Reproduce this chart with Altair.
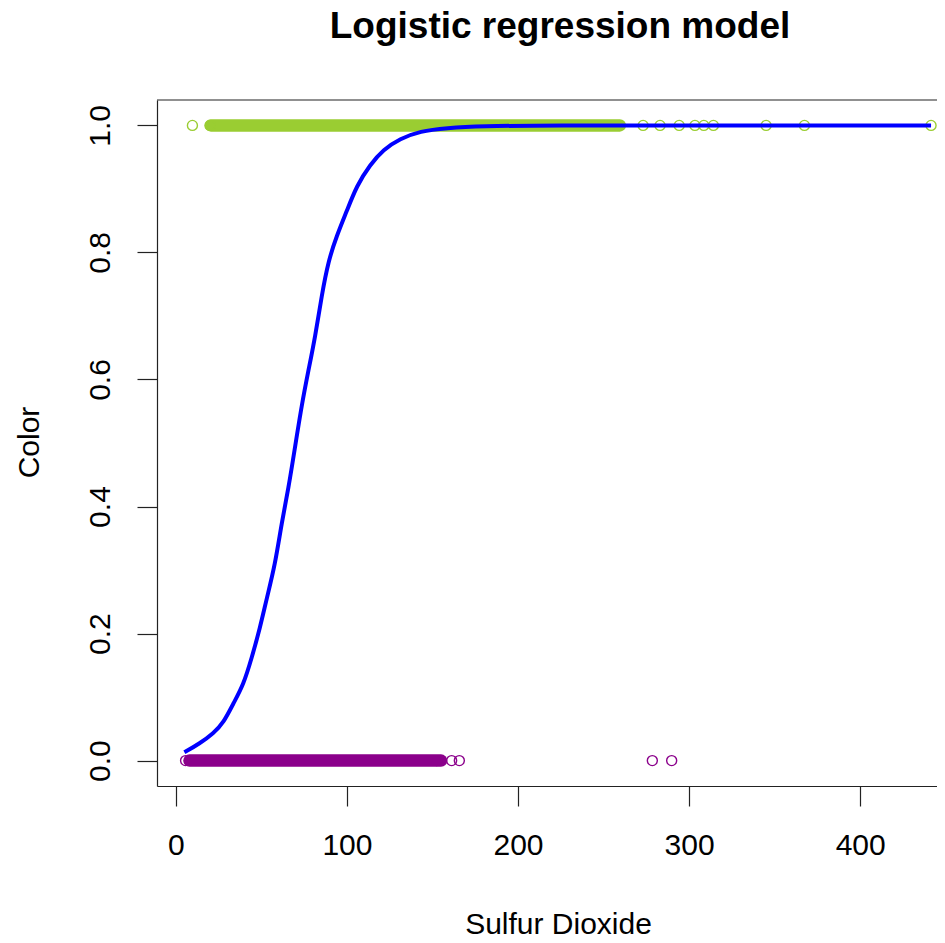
import altair as alt
import pandas as pd

# ---- data ----
# dense runs of overlapping observations (start, end of the run on the x axis)
green_band_start = [20.5]
green_band_end = [259.5]
purple_band_start = [8.0]
purple_band_end = [155.0]

# isolated observations
green_points_x = [9.7, 20.0, 273.1, 283.0, 294.2, 303.4, 308.6, 314.2, 345.0, 367.4, 441.4]
purple_points_x = [5.7, 152.5, 161.2, 165.7, 278.5, 289.8]

# fitted logistic curve
curve_x = [5, 14, 22, 28, 33.6, 39.5, 44.4, 49.2, 53.1, 58, 61.9, 65.8, 69.7, 73.6,
           77.4, 81.4, 85.3, 89.1, 94, 99.9, 105.7, 113.5, 121.3, 131, 142.7, 158.3,
           177.8, 220, 300, 441.4]
curve_p = [0.013, 0.027, 0.043, 0.060, 0.090, 0.119, 0.162, 0.209, 0.255, 0.308,
           0.375, 0.428, 0.494, 0.560, 0.613, 0.666, 0.733, 0.786, 0.826, 0.865,
           0.905, 0.938, 0.962, 0.979, 0.991, 0.996, 0.999, 1.0, 1.0, 1.0]

x_ticks = [0, 100, 200, 300, 400]
y_ticks = [0.0, 0.2, 0.4, 0.6, 0.8, 1.0]
title_text = "Logistic regression model"

GREEN = "#9ACD32"
PURPLE = "#8B008B"
BLUE = "#0000FF"
FONT = "Liberation Sans"
W, H = 780, 686

bands = pd.DataFrame({
    "start": green_band_start + purple_band_start,
    "end": green_band_end + purple_band_end,
    "color": [1.0] * len(green_band_start) + [0.0] * len(purple_band_start),
    "c": [GREEN] * len(green_band_start) + [PURPLE] * len(purple_band_start),
})
points = pd.DataFrame({
    "start": green_points_x + purple_points_x,
    "color": [1.0] * len(green_points_x) + [0.0] * len(purple_points_x),
    "c": [GREEN] * len(green_points_x) + [PURPLE] * len(purple_points_x),
})
curve = pd.DataFrame({"start": curve_x, "color": curve_p})

xs = alt.Scale(domain=[-11, -11 + W / 1.711], nice=False, zero=False)
ys = alt.Scale(domain=[-0.04, 1.04], nice=False, zero=False)

x_axis = alt.Axis(
    values=x_ticks, grid=False, labelFont=FONT, labelFontSize=30, labelColor="black",
    tickSize=20, tickColor="#222", tickWidth=1.2, domainColor="#222", domainWidth=1.2,
    labelPadding=24, labelFlush=False, title="Sulfur Dioxide", titleFont=FONT,
    titleFontSize=30, titleFontWeight="normal", titleColor="black",
    titleBaseline="alphabetic", titleX=401, titleY=147, titleAlign="center",
)
y_axis = alt.Axis(
    values=y_ticks, format=".1f", grid=False, labelFont=FONT, labelFontSize=30,
    labelColor="black", labelAngle=270, labelAlign="center", labelBaseline="bottom",
    labelPadding=22, labelFlush=False, tickSize=20, tickColor="#222", tickWidth=1.2,
    domainColor="#222", domainWidth=1.2, title="Color", titleFont=FONT, titleFontSize=30,
    titleFontWeight="normal", titleColor="black", titleAngle=270,
    titleBaseline="alphabetic", titleAlign="center", titleX=-119, titleY=342,
)

band_layer = alt.Chart(bands).mark_rule(strokeWidth=12.5, strokeCap="round").encode(
    x=alt.X("start:Q", scale=xs, axis=x_axis),
    x2="end:Q",
    y=alt.Y("color:Q", scale=ys, axis=y_axis),
    color=alt.Color("c:N", scale=None),
)

point_layer = alt.Chart(points).mark_point(shape="circle", filled=False, size=100,
                                           strokeWidth=1.4, opacity=1).encode(
    x=alt.X("start:Q", scale=xs),
    y=alt.Y("color:Q", scale=ys),
    color=alt.Color("c:N", scale=None),
)

curve_layer = alt.Chart(curve).mark_line(color=BLUE, strokeWidth=4,
                                         interpolate="basis").encode(
    x=alt.X("start:Q", scale=xs),
    y=alt.Y("color:Q", scale=ys),
)

top_border = alt.Chart(pd.DataFrame({"k": [0]})).mark_rule(
    color="#222", strokeWidth=1.2).encode(
    x=alt.value(0), x2=alt.value(W), y=alt.value(0)
)

title_layer = alt.Chart(pd.DataFrame({"t": [title_text]})).mark_text(
    font=FONT, fontSize=37, fontWeight="bold", color="black", align="center",
    baseline="alphabetic").encode(
    text="t:N", x=alt.value(403), y=alt.value(-62)
)

chart = alt.layer(band_layer, point_layer, curve_layer, top_border, title_layer).properties(
    width=W, height=H,
    background="white",
    autosize=alt.AutoSizeParams(type="none"),
    padding={"left": 149, "top": 92, "right": 0, "bottom": 149},
).configure_view(stroke=None)

chart.save("out.html", embed_options={"renderer": "svg", "actions": False})
